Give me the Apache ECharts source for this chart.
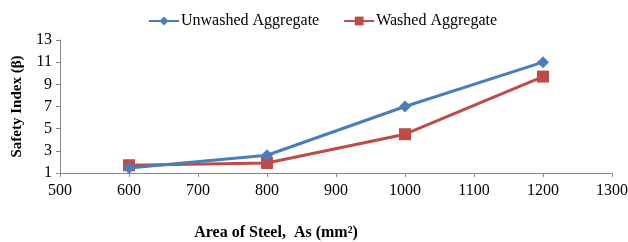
<!DOCTYPE html>
<html>
<head>
<meta charset="utf-8">
<script src="https://cdn.jsdelivr.net/npm/echarts@6/dist/echarts.min.js"></script>
<style>
  html, body { margin: 0; padding: 0; background: #fff; }
  #chart1 { width: 628px; height: 242px; }
</style>
</head>
<body>
<div id="chart1"></div>
<script>
var steelArea = [600, 800, 1000, 1200];
var unwashed = [1.45, 2.6, 7.0, 11.0];
var washed = [1.7, 1.9, 4.5, 9.7];
var seriesNames = ['Unwashed Aggregate', 'Washed Aggregate'];

function pairs(xs, ys) {
    var out = [];
    for (var i = 0; i < xs.length; i++) {
        out.push([xs[i], ys[i]]);
    }
    return out;
}

var myChart = echarts.init(document.getElementById('chart1'));
var font = '"Liberation Serif", "Times New Roman", serif';

option = {
    animation: false,
    textStyle: { fontFamily: font },
    legend: {
        top: 8,
        left: 143,
        itemWidth: 30,
        itemHeight: 11,
        itemGap: 24,
        textStyle: { fontFamily: font, fontSize: 16, color: '#000', padding: [0, 0, 0, -3] },
        data: seriesNames
    },
    grid: { left: 60, right: 16, top: 40, bottom: 69, outerBoundsMode: 'none', containLabel: false },
    xAxis: {
        type: 'value',
        min: 500, max: 1300, interval: 100,
        name: 'Area of Steel,  As (mm²)',
        nameLocation: 'middle',
        nameGap: 52,
        nameTextStyle: { fontFamily: font, fontSize: 16, fontWeight: 'bold', color: '#000', padding: [0, 120, 0, 0] },
        axisLine: { lineStyle: { color: '#888' } },
        axisTick: { show: true, length: 4, lineStyle: { color: '#888' } },
        axisLabel: { fontFamily: font, fontSize: 16, color: '#000', margin: 10, formatter: function (v) { return String(v); } },
        splitLine: { show: false }
    },
    yAxis: {
        type: 'value',
        min: 1, max: 13, interval: 2,
        name: 'Safety Index (β)',
        nameLocation: 'middle',
        nameGap: 34,
        nameTextStyle: { fontFamily: font, fontSize: 15, fontWeight: 'bold', color: '#000' },
        axisLine: { show: true, lineStyle: { color: '#888' } },
        axisTick: { show: true, length: 4, lineStyle: { color: '#888' } },
        axisLabel: { fontFamily: font, fontSize: 16, color: '#000', margin: 8 },
        splitLine: { show: false }
    },
    series: [
        {
            name: seriesNames[0],
            type: 'line',
            data: pairs(steelArea, unwashed),
            symbol: 'diamond',
            symbolSize: 12,
            lineStyle: { width: 3, color: '#4a7ebb' },
            itemStyle: { color: '#4a7ebb' },
            z: 3
        },
        {
            name: seriesNames[1],
            type: 'line',
            data: pairs(steelArea, washed),
            symbol: 'rect',
            symbolSize: 12,
            lineStyle: { width: 3, color: '#be4b48' },
            itemStyle: { color: '#be4b48' },
            z: 2
        }
    ]
};
myChart.setOption(option);
</script>
</body>
</html>
